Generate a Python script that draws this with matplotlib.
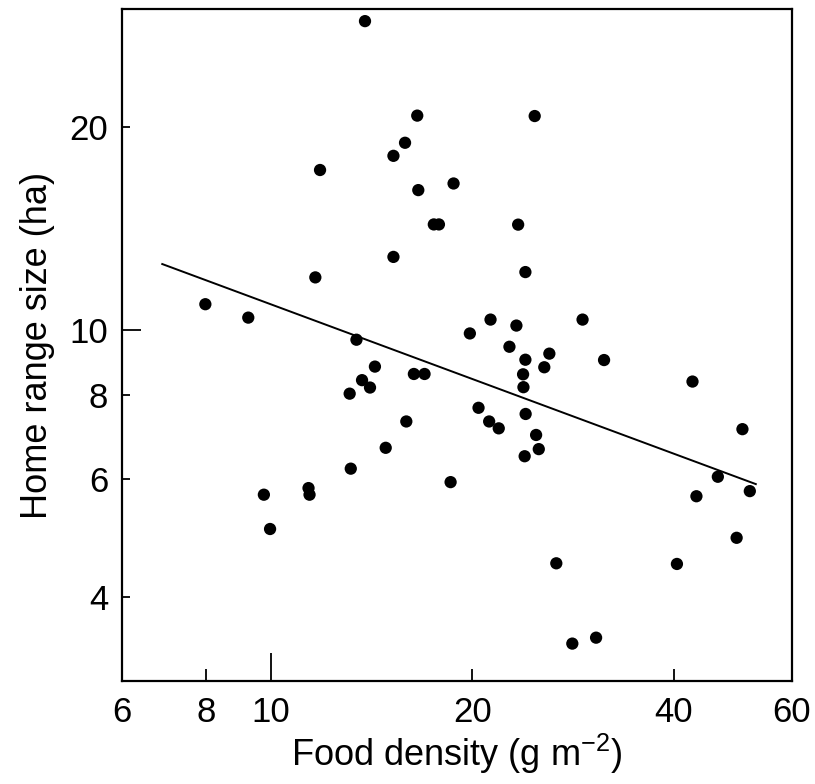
import numpy as np
import matplotlib
matplotlib.use('Agg')
import matplotlib.pyplot as plt
from matplotlib.ticker import FixedLocator, NullLocator

plt.rcParams['font.family'] = ['Liberation Sans', 'DejaVu Sans']
plt.rcParams['mathtext.default'] = 'regular'

# food density (g m^-2) and home range size (ha) for each animal
food_density = [13.83, 16.55, 15.87, 15.25, 11.85, 16.61, 18.75, 17.52, 17.83, 15.25,
                11.66, 7.99, 9.26, 13.43, 24.78, 23.41, 24.0, 21.29, 19.83, 23.27,
                29.21, 22.72, 24.0, 26.06, 25.61, 23.81, 23.84, 31.45, 42.62, 14.31,
                13.69, 14.07, 13.12, 16.36, 16.97, 20.43, 21.19, 21.90, 24.02, 24.90,
                25.13, 23.94, 15.94, 14.85, 13.17, 18.56, 9.77, 11.39, 11.43, 9.98,
                50.6, 46.5, 51.9, 43.2, 49.6, 26.69, 40.4, 28.2, 30.6]
home_range = [28.78, 20.82, 18.97, 18.14, 17.28, 16.13, 16.50, 14.34, 14.34, 12.83,
              11.96, 10.91, 10.42, 9.66, 20.79, 14.33, 12.18, 10.35, 9.87, 10.14,
              10.35, 9.43, 9.02, 9.21, 8.79, 8.58, 8.21, 9.01, 8.37, 8.81,
              8.41, 8.20, 8.03, 8.59, 8.59, 7.65, 7.30, 7.13, 7.49, 6.97,
              6.64, 6.48, 7.30, 6.67, 6.21, 5.93, 5.68, 5.81, 5.68, 5.05,
              7.11, 6.04, 5.75, 5.65, 4.90, 4.49, 4.48, 3.41, 3.48]

# regression line end points (log-log fit)
fit_x = [6.89, 52.98]
fit_y = [12.52, 5.89]

x_ticks = [6, 8, 10, 20, 40, 60]
y_ticks = [4, 6, 8, 10, 20]

fig = plt.figure(figsize=(8.15, 7.84), dpi=100)
ax = fig.add_axes([0.1497, 0.1314, 0.8221, 0.8571])

ax.plot(fit_x, fit_y, color='black', lw=1.4, zorder=2)
ax.scatter(food_density, home_range, s=78, color='black', edgecolors='none', zorder=3)

ax.set_xscale('log')
ax.set_yscale('log')
ax.set_xlim(6, 60)
ax.set_ylim(3, 30)

ax.xaxis.set_major_locator(FixedLocator(x_ticks))
ax.xaxis.set_minor_locator(NullLocator())
ax.set_xticklabels([str(t) for t in x_ticks])
ax.yaxis.set_major_locator(FixedLocator(y_ticks))
ax.yaxis.set_minor_locator(NullLocator())
ax.set_yticklabels([str(t) for t in y_ticks])

ax.tick_params(axis='both', direction='in', length=6, width=1.3, labelsize=25)
ax.tick_params(axis='x', pad=11)
ax.tick_params(axis='y', pad=10)
# decade ticks drawn longer
for t, v in zip(ax.xaxis.get_major_ticks(), x_ticks):
    if v == 10:
        t.tick1line.set_markersize(20)
    elif v in (6, 60):
        t.tick1line.set_markersize(0)
    else:
        t.tick1line.set_markersize(9)
for t, v in zip(ax.yaxis.get_major_ticks(), y_ticks):
    if v == 10:
        t.tick1line.set_markersize(14)

for s in ax.spines.values():
    s.set_linewidth(1.6)

ax.set_xlabel('Food density (g m$^{-2}$)', fontsize=26, labelpad=2)
ax.set_ylabel('Home range size (ha)', fontsize=26, labelpad=10)

fig.savefig('out.png', dpi=100)
